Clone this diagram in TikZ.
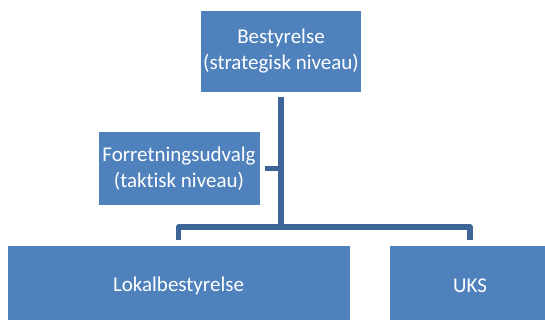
\documentclass[tikz,border=0pt]{standalone}
\usepackage{fontspec}
\setmainfont{Carlito}[Ligatures=NoCommon]
\definecolor{boxblue}{HTML}{4F81BD}
\definecolor{lineblue}{HTML}{3D6597}

\begin{document}
\begin{tikzpicture}[x=1pt,y=-1pt,
    box/.style={fill=boxblue,text=white,inner sep=2pt,align=center,
      font=\fontsize{21}{25.6}\selectfont},
    conn/.style={lineblue,line width=5.5pt,line join=round}]

    \useasboundingbox (0,0) rectangle (545,320);

    \node[box,minimum width=160.5pt,minimum height=81pt] (best) at (281,51.3)
      {Bestyrelse\\(strategisk niveau)};
    \node[box,minimum width=161pt,minimum height=72pt] (fu) at (179,168.5)
      {Forretningsudvalg\\(taktisk niveau)};
    \node[box,minimum width=342pt,minimum height=80pt] (lok) at (178.5,286)
      {Lokalbestyrelse};
    \node[box,minimum width=160pt,minimum height=80pt] (uks) at (470,286)
      {UKS};

    \coordinate (hub) at (281,227);

    \draw[conn] ([yshift=-5.5pt]best.south) -- (hub);
    \draw[conn] ([xshift=5.5pt]fu.east) -- (fu.east -| hub);
    \draw[conn] ([yshift=6pt]lok.north) |- (hub) -| ([yshift=6pt]uks.north);
\end{tikzpicture}
\end{document}
